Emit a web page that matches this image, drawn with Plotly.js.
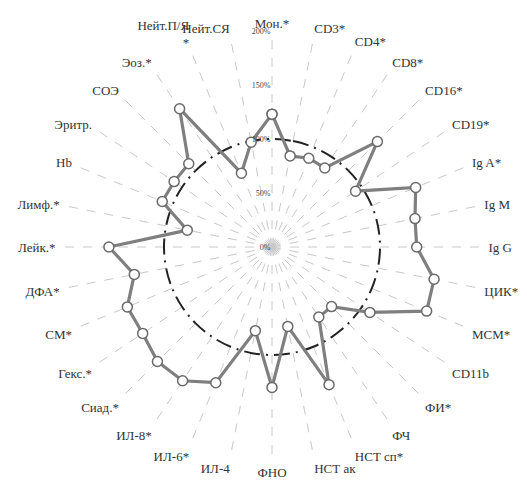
<!DOCTYPE html>
<html><head><meta charset="utf-8">
<script src="https://cdn.plot.ly/plotly-3.0.1.min.js"></script>
<style>html,body{margin:0;padding:0;background:#fff}</style>
</head><body><div id="chart" style="width:527px;height:483px"></div>
<script>
const categories = ["Мон.*","CD3*","CD4*","CD8*","CD16*","CD19*","Ig A*","Ig M","Ig G","ЦИК*","МСМ*","CD11b","ФИ*","ФЧ","НСТ сп*","НСТ ак","ФНО","ИЛ-4","ИЛ-6*","ИЛ-8*","Сиад.*","Гекс.*","СМ*","ДФА*","Лейк.*","Лимф.*","Hb","Эритр.","СОЭ","Эоз.*","Нейт.П/Я<br>*","Нейт.СЯ"];
const values = [123,86,89,88,138,93,144,135,134,153,155,109,78,78,138,75,130,79,136,149,150,144,145,130,151,80,110,109,109,154,74,99];
const referenceLevel = 100;
const radialTicks = [0,50,100,150,200];
const radialTickLabels = ["0%","50%","100%","150%","200%"];

const closedCats = categories.concat([categories[0]]);
const closedVals = values.concat([values[0]]);
const refVals = closedCats.map(() => referenceLevel);
const SERIF = "Liberation Serif";

const traces = [
  {type:"scatterpolar", r: refVals, theta: closedCats, mode:"lines",
   line:{color:"#222", width:2, dash:"16px,6px,2px,6px", shape:"spline"}, hoverinfo:"skip"},
  {type:"scatterpolar", r: closedVals, theta: closedCats, mode:"lines+markers",
   line:{color:"#7f7f7f", width:3.2},
   marker:{size:10, color:"#fff", line:{color:"#6a6a6a", width:1.5}}}
];

const layout = {
  width:527, height:483, showlegend:false,
  paper_bgcolor:"#fff", plot_bgcolor:"#fff",
  margin:{l:56, r:39, t:31, b:20},
  font:{family:SERIF, color:"#333"},
  polar:{
    bgcolor:"#fff",
    angularaxis:{type:"category", direction:"clockwise", rotation:90,
      categoryorder:"array", categoryarray:categories,
      showline:false, ticks:"", gridcolor:"#c8c8c8", griddash:"dash", gridwidth:1,
      tickfont:{size:13, color:"#333", family:SERIF}},
    radialaxis:{range:[0,200], angle:90, tickangle:90, side:"counterclockwise",
      tickvals:radialTicks, ticktext:radialTickLabels, showgrid:false, showline:false, ticks:"",
      tickfont:{size:8, color:"#444", family:SERIF}}
  }
};
Plotly.newPlot("chart", traces, layout, {displayModeBar:false, staticPlot:true});
</script></body></html>
